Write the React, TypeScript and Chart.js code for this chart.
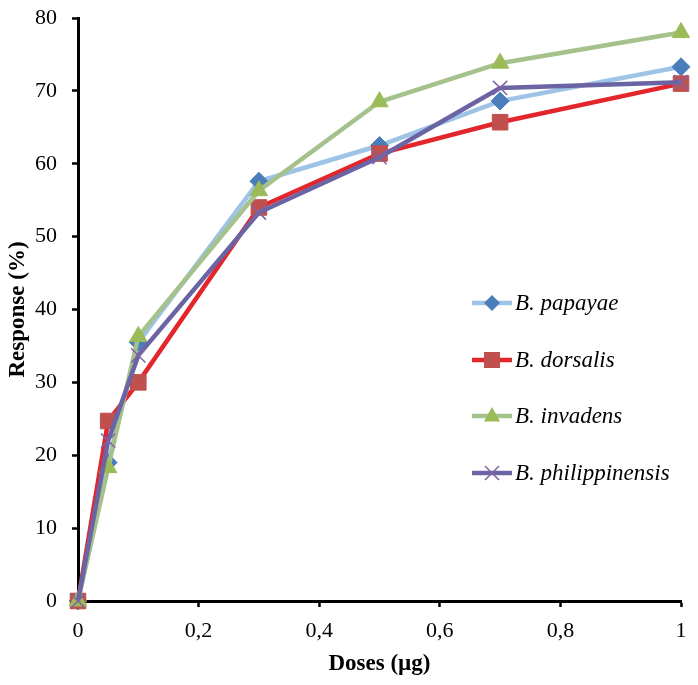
import React, { useEffect, useRef } from "react";
import { Chart, registerables } from "chart.js";

Chart.register(...registerables);

const doses = [0, 0.05, 0.1, 0.3, 0.5, 0.7, 1];
const papayae = [0, 19, 35.5, 57.6, 62.5, 68.6, 73.3];
const dorsalis = [0, 24.7, 30, 54, 61.4, 65.7, 71];
const invadens = [0, 18.3, 36.3, 56.3, 68.5, 73.8, 78];
const philippinensis = [0, 22, 33.7, 53.3, 60.9, 70.4, 71.2];
const seriesNames = ["B. papayae", "B. dorsalis", "B. invadens", "B. philippinensis"];
const xTicks = [0, 0.2, 0.4, 0.6, 0.8, 1];

const FONT = "'Liberation Serif', 'Times New Roman', serif";

const styles = [
  { line: "#9DC3E6", fill: "#4A7EBB", point: "rectRot", radius: 9, order: 4 },
  { line: "#E3262B", fill: "#C0504D", point: "rect", radius: 11, order: 3 },
  { line: "#A5C28D", fill: "#9BBB59", point: "triangle", radius: 10, order: 2 },
  { line: "#6A64A4", fill: "#8064A2", point: "crossRot", radius: 10, order: 1 },
];

function drawMarker(ctx: CanvasRenderingContext2D, type: string, x: number, y: number, color: string) {
  ctx.save();
  ctx.fillStyle = color;
  ctx.strokeStyle = color;
  ctx.beginPath();
  if (type === "rectRot") {
    const r = 8;
    ctx.moveTo(x, y - r);
    ctx.lineTo(x + r, y);
    ctx.lineTo(x, y + r);
    ctx.lineTo(x - r, y);
    ctx.closePath();
    ctx.fill();
  } else if (type === "rect") {
    const h = 8;
    ctx.rect(x - h, y - h, 2 * h, 2 * h);
    ctx.fill();
  } else if (type === "triangle") {
    const r = 9;
    ctx.moveTo(x, y - r);
    ctx.lineTo(x + r * 0.9, y + r * 0.6);
    ctx.lineTo(x - r * 0.9, y + r * 0.6);
    ctx.closePath();
    ctx.fill();
  } else {
    ctx.lineWidth = 1.5;
    const d = 7;
    ctx.moveTo(x - d, y - d);
    ctx.lineTo(x + d, y + d);
    ctx.moveTo(x + d, y - d);
    ctx.lineTo(x - d, y + d);
    ctx.stroke();
  }
  ctx.restore();
}

const legendPlugin = {
  id: "customLegend",
  afterDraw(chart: any) {
    const ctx = chart.ctx;
    const ys = [303, 360, 416, 473];
    ctx.save();
    styles.forEach((s, i) => {
      const y = ys[i];
      ctx.strokeStyle = s.line;
      ctx.lineWidth = 4.5;
      ctx.beginPath();
      ctx.moveTo(472, y);
      ctx.lineTo(512, y);
      ctx.stroke();
      drawMarker(ctx, s.point, 492, y, s.fill);
      ctx.fillStyle = "#000";
      ctx.font = `italic 23px ${FONT}`;
      ctx.textBaseline = "middle";
      ctx.textAlign = "left";
      ctx.fillText(seriesNames[i], 515, y + 1);
    });
    ctx.restore();
  },
};

export default function App() {
  const ref = useRef<HTMLCanvasElement | null>(null);
  useEffect(() => {
    document.body.style.margin = "0";
    const allData = [papayae, dorsalis, invadens, philippinensis];
    const chart = new Chart(ref.current as HTMLCanvasElement, {
      type: "line",
      data: {
        datasets: allData.map((vals, i) => ({
          label: seriesNames[i],
          data: doses.map((d, j) => ({ x: d, y: vals[j] })),
          borderColor: styles[i].line,
          backgroundColor: styles[i].fill,
          pointBackgroundColor: styles[i].fill,
          pointBorderColor: styles[i].fill,
          pointBorderWidth: styles[i].point === "crossRot" ? 1.5 : 1,
          pointStyle: styles[i].point as any,
          pointRadius: styles[i].radius,
          borderWidth: 4.5,
          tension: 0,
          order: styles[i].order,
          clip: false as any,
        })),
      },
      options: {
        animation: false,
        responsive: false,
        maintainAspectRatio: false,
        layout: { padding: { top: 18, right: 17, left: 0, bottom: 0 } },
        plugins: {
          legend: { display: false },
          tooltip: { enabled: false },
        },
        scales: {
          x: {
            type: "linear",
            min: 0,
            max: 1,
            afterBuildTicks: (scale: any) => {
              scale.ticks = xTicks.map((v) => ({ value: v }));
            },
            afterFit: (scale: any) => {
              scale.height = 84;
              scale.paddingLeft = 0;
              scale.paddingRight = 0;
            },
            ticks: {
              color: "#000",
              font: { family: FONT, size: 22 },
              padding: 11,
              maxRotation: 0,
              callback: (v: any) => String(v).replace(".", ","),
            },
            grid: {
              drawOnChartArea: false,
              drawTicks: true,
              tickLength: 6,
              tickWidth: 2.5,
              color: "#000",
            },
            border: { color: "#000", width: 3 },
            title: {
              display: true,
              text: "Doses (µg)",
              color: "#000",
              font: { family: FONT, size: 23, weight: "bold" },
              padding: { top: 0, bottom: 7 },
            },
          },
          y: {
            min: 0,
            max: 80,
            afterFit: (scale: any) => {
              scale.width = 78;
              scale.paddingTop = 0;
              scale.paddingBottom = 0;
            },
            ticks: {
              stepSize: 10,
              color: "#000",
              font: { family: FONT, size: 22 },
              padding: 15,
            },
            grid: {
              drawOnChartArea: false,
              drawTicks: true,
              tickLength: 6,
              tickWidth: 2.5,
              color: "#000",
            },
            border: { color: "#000", width: 3 },
            title: {
              display: true,
              text: "Response (%)",
              color: "#000",
              font: { family: FONT, size: 23, weight: "bold" },
              padding: { top: 4, bottom: 0 },
            },
          },
        },
      },
      plugins: [legendPlugin],
    });
    return () => chart.destroy();
  }, []);
  return <canvas ref={ref} width={698} height={685} style={{ display: "block" }} />;
}
